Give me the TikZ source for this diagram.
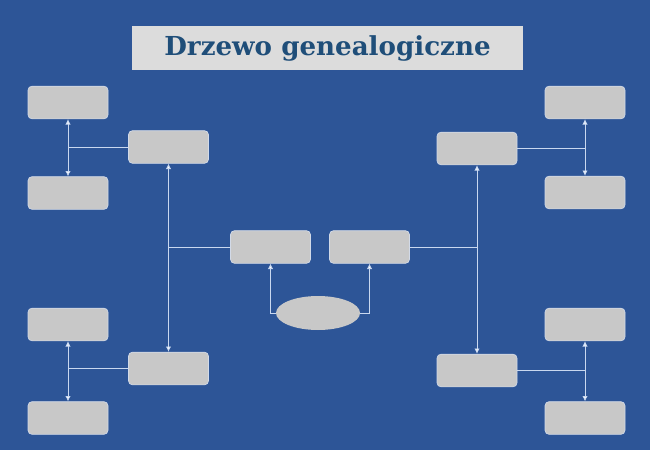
\documentclass[tikz,border=0pt]{standalone}
\usepackage{fontspec}
\newfontfamily\titlefont{DejaVu Serif}
\usetikzlibrary{arrows.meta,shapes.geometric}
\definecolor{bgblue}{HTML}{2D5597}
\definecolor{boxgray}{HTML}{C8C8C8}
\definecolor{boxedge}{HTML}{D2DAE8}
\definecolor{titlegray}{HTML}{DCDCDC}
\definecolor{titleblue}{HTML}{1F4E79}
\definecolor{linkblue}{HTML}{C9D8F0}
\begin{document}
\begin{tikzpicture}[x=0.75pt,y=-0.75pt,
    person/.style={draw=boxedge,fill=boxgray,rounded corners=3pt,minimum width=60pt,minimum height=24.5pt,line width=0.5pt},
    link/.style={draw=linkblue,line width=0.6pt},
    tip/.style={-{Latex[length=4pt,width=4pt,fill=white]}},
    twotip/.style={{Latex[length=4pt,width=4pt,fill=white]}-{Latex[length=4pt,width=4pt,fill=white]}}]
    \fill[bgblue] (0,0) rectangle (650,450);
    \useasboundingbox (0,0) rectangle (650,450);
    \node[fill=titlegray,minimum width=293pt,minimum height=33pt] (title) at (327.5,48) {\titlefont\bfseries\fontsize{19.6}{22}\selectfont\color{titleblue}Drzewo genealogiczne};
    % lewa strona
    \node[person] (L1) at (68,102.5) {};
    \node[person] (L2) at (168.5,147) {};
    \node[person] (L3) at (68,193) {};
    \node[person] (L4) at (68,324.5) {};
    \node[person] (L5) at (168.5,368.5) {};
    \node[person] (L6) at (68,418) {};
    % srodek
    \node[person] (C1) at (270.5,247) {};
    \node[person] (C2) at (369.5,247) {};
    \node[ellipse,fill=boxgray,minimum width=63pt,minimum height=25.5pt] (child) at (318,313) {};
    % prawa strona
    \node[person] (R1) at (585,102.5) {};
    \node[person] (R2) at (477,148.5) {};
    \node[person] (R3) at (585,192.5) {};
    \node[person] (R4) at (585,324.5) {};
    \node[person] (R5) at (477,370.5) {};
    \node[person] (R6) at (585,418) {};
    % polaczenia
    \draw[link,twotip] (L1.south) -- (L3.north);
    \draw[link] (L2.west) -- (L2.west -| L1.south);
    \draw[link,twotip] (L4.south) -- (L6.north);
    \draw[link] (L5.west) -- (L5.west -| L4.south);
    \draw[link,twotip] (L2.south) -- (L5.north);
    \draw[link] (C1.west) -- (C1.west -| L2.south);
    \draw[link,tip] (child.west) -| (C1.south);
    \draw[link,tip] (child.east) -| (C2.south);
    \draw[link] (C2.east) -- (C2.east -| R2.south);
    \draw[link,twotip] (R2.south) -- (R5.north);
    \draw[link] (R2.east) -- (R2.east -| R1.south);
    \draw[link,twotip] (R1.south) -- (R3.north);
    \draw[link] (R5.east) -- (R5.east -| R4.south);
    \draw[link,twotip] (R4.south) -- (R6.north);
\end{tikzpicture}
\end{document}
